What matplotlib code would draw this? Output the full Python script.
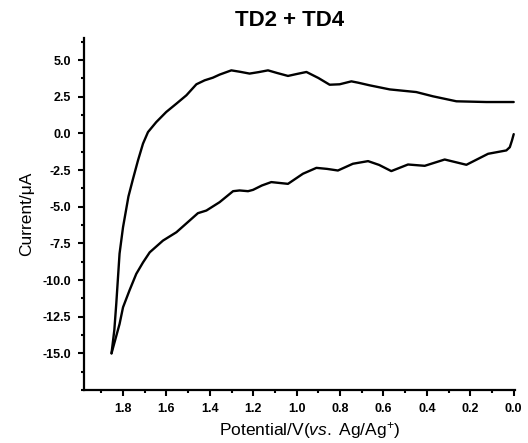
import matplotlib
matplotlib.use("Agg")
import matplotlib.pyplot as plt
from matplotlib.ticker import MultipleLocator

plt.rcParams['font.family'] = ['Liberation Sans', 'DejaVu Sans']
plt.rcParams['mathtext.fontset'] = 'custom'
plt.rcParams['mathtext.rm'] = 'Liberation Sans'
plt.rcParams['mathtext.it'] = 'Liberation Sans:italic'

title = "TD2 + TD4"
xlabel = r"Potential/V($\it{vs.}$ Ag/Ag$^{+}$)"
ylabel = "Current/\u03bcA"

# anodic (upper) sweep, from 0.0 V to the turning point
upper_x = [0.000, 0.126, 0.264, 0.372, 0.449, 0.571, 0.664, 0.717, 0.748, 0.802,
           0.848, 0.900, 0.955, 1.000, 1.040, 1.090, 1.132, 1.175, 1.217, 1.260,
           1.301, 1.355, 1.386, 1.424, 1.462, 1.508, 1.554, 1.601, 1.647, 1.685,
           1.708, 1.731, 1.754, 1.775, 1.800, 1.816, 1.831, 1.840, 1.853]
upper_y = [2.14, 2.14, 2.19, 2.53, 2.82, 3.00, 3.28, 3.46, 3.55, 3.35,
           3.32, 3.78, 4.19, 4.05, 3.92, 4.12, 4.30, 4.18, 4.08, 4.20,
           4.30, 4.01, 3.80, 3.62, 3.35, 2.60, 2.03, 1.46, 0.77, 0.09,
           -0.70, -1.84, -3.10, -4.30, -6.40, -8.20, -11.60, -13.40, -15.00]

# return (lower) sweep, from the turning point back to 0.0 V
lower_x = [1.853, 1.816, 1.800, 1.770, 1.739, 1.708, 1.677, 1.616, 1.554, 1.493,
           1.455, 1.416, 1.355, 1.293, 1.263, 1.224, 1.201, 1.160, 1.117, 1.040,
           0.971, 0.909, 0.860, 0.810, 0.741, 0.671, 0.620, 0.564, 0.487, 0.410,
           0.318, 0.218, 0.118, 0.034, 0.018, 0.008, 0.000]
lower_y = [-15.00, -13.00, -11.86, -10.70, -9.58, -8.80, -8.11, -7.31, -6.74, -5.94,
           -5.44, -5.26, -4.69, -3.94, -3.89, -3.94, -3.85, -3.55, -3.32, -3.44,
           -2.75, -2.35, -2.42, -2.53, -2.07, -1.89, -2.15, -2.57, -2.12, -2.21,
           -1.78, -2.14, -1.39, -1.16, -0.94, -0.48, -0.05]

x_ticks = [1.8, 1.6, 1.4, 1.2, 1.0, 0.8, 0.6, 0.4, 0.2, 0.0]
y_ticks = [5.0, 2.5, 0.0, -2.5, -5.0, -7.5, -10.0, -12.5, -15.0]

fig = plt.figure(figsize=(5.28, 4.43), dpi=100)
ax = fig.add_axes([0.159, 0.1196, 0.816, 0.7944])

ax.plot(upper_x, upper_y, color='black', lw=1.7, solid_joinstyle='round',
        solid_capstyle='round')
ax.plot(lower_x, lower_y, color='black', lw=1.7, solid_joinstyle='round',
        solid_capstyle='round')

ax.set_xlim(1.98, -0.005)
ax.set_ylim(-17.5, 6.5)
ax.set_xticks(x_ticks)
ax.set_xticklabels([f"{v:.1f}" for v in x_ticks])
ax.set_yticks(y_ticks)
ax.set_yticklabels([f"{v:.1f}" for v in y_ticks])
ax.xaxis.set_minor_locator(MultipleLocator(0.1))
ax.yaxis.set_minor_locator(MultipleLocator(1.25))

for s in ['top', 'right']:
    ax.spines[s].set_visible(False)
for s in ['left', 'bottom']:
    ax.spines[s].set_linewidth(1.6)

ax.tick_params(which='major', direction='out', length=4.5, width=1.5,
               labelsize=9, pad=5)
ax.tick_params(which='minor', direction='out', length=2.5, width=1.5)
for lab in ax.get_xticklabels() + ax.get_yticklabels():
    lab.set_fontweight('bold')

ax.set_xlabel(xlabel, fontsize=12.5)
ax.xaxis.set_label_coords(0.524, -0.085)
ax.set_ylabel(ylabel, fontsize=12.5, labelpad=6)
fig.text(0.549, 0.954, title, ha='center', va='center', fontsize=16,
         fontweight='bold')

fig.savefig("out.png", dpi=100)
